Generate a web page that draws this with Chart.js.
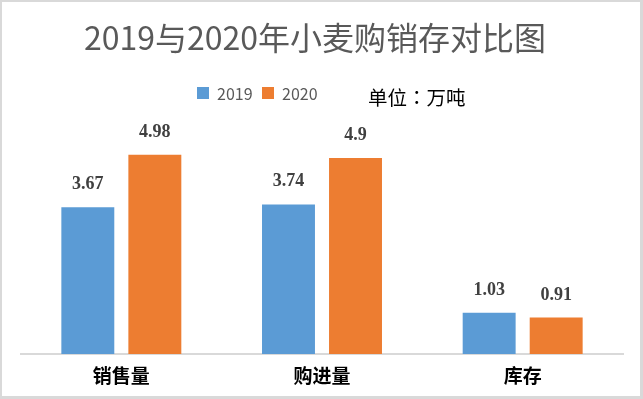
<!DOCTYPE html>
<html>
<head>
<meta charset="utf-8">
<script src="https://cdn.jsdelivr.net/npm/chart.js@4"></script>
<style>
  html, body { margin: 0; padding: 0; background: #fff; }
  #wrap { position: relative; width: 643px; height: 399px; }
  #frame {
    position: absolute; left: 0; top: 0; width: 643px; height: 399px;
    box-sizing: border-box; border: 2px solid #d9d9d9;
    border-right-width: 3px; border-bottom-width: 3px; pointer-events: none;
  }
</style>
</head>
<body>
<div id="wrap">
  <canvas id="chart" width="643" height="399"></canvas>
  <div id="frame"></div>
</div>
<script>
// ── Data ──────────────────────────────────────────────────────────────────────
const TITLE = '2019与2020年小麦购销存对比图';
const UNIT_NOTE = '单位：万吨';
const CATEGORIES = ['销售量', '购进量', '库存'];
const SERIES_NAMES = ['2019', '2020'];
const VALUES_2019 = [3.67, 3.74, 1.03];
const VALUES_2020 = [4.98, 4.9, 0.91];

const COLORS = ['#5b9bd5', '#ed7d31'];
const CJK = '"Noto Sans CJK SC", "Noto Sans", sans-serif';

// ── Title, legend, unit note and value labels drawn on the canvas ────────────
const decorPlugin = {
  id: 'decor',
  afterDraw(chart) {
    const ctx = chart.ctx;
    ctx.save();

    // title
    ctx.fillStyle = '#595959';
    ctx.font = '32px ' + CJK;
    ctx.textAlign = 'center';
    ctx.textBaseline = 'middle';
    ctx.fillText(TITLE, 315, 38);

    // legend
    ctx.font = '16px ' + CJK;
    ctx.textAlign = 'left';
    let x = 197;
    chart.data.datasets.forEach((ds, i) => {
      ctx.fillStyle = ds.backgroundColor;
      ctx.fillRect(x, 87, 12, 12);
      ctx.fillStyle = '#595959';
      ctx.fillText(ds.label, x + 20, 94);
      x += 65;
    });

    // unit note (TC font keeps the full-width colon centred)
    ctx.fillStyle = '#000';
    ctx.font = '19.5px "Noto Sans CJK TC", ' + CJK;
    ctx.fillText(UNIT_NOTE, 368, 98);

    // value labels
    ctx.fillStyle = '#404040';
    ctx.font = 'bold 18px "Liberation Serif", "Times New Roman", serif';
    ctx.textAlign = 'center';
    ctx.textBaseline = 'alphabetic';
    chart.data.datasets.forEach((ds, i) => {
      chart.getDatasetMeta(i).data.forEach((bar, j) => {
        ctx.fillText(String(ds.data[j]), bar.x, bar.y - 18);
      });
    });

    ctx.restore();
  }
};

new Chart(document.getElementById('chart'), {
  type: 'bar',
  data: {
    labels: CATEGORIES,
    datasets: [
      { label: SERIES_NAMES[0], data: VALUES_2019, backgroundColor: COLORS[0] },
      { label: SERIES_NAMES[1], data: VALUES_2020, backgroundColor: COLORS[1] },
    ],
  },
  options: {
    responsive: false,
    animation: false,
    devicePixelRatio: 1,
    categoryPercentage: 0.668,
    barPercentage: 0.79,
    layout: { padding: { left: 21, right: 20, top: 114, bottom: 0 } },
    plugins: {
      legend: { display: false },
      title: { display: false },
      tooltip: { enabled: false },
    },
    scales: {
      x: {
        grid: { display: false, drawTicks: false },
        border: { display: true, color: '#d9d9d9', width: 2 },
        ticks: {
          color: '#000',
          padding: 10,
          font: { family: CJK, size: 19, weight: 'bold' },
        },
        afterFit: scale => { scale.height = 45; },
      },
      y: {
        display: false,
        min: 0,
        max: 6,
      },
    },
  },
  plugins: [decorPlugin],
});
</script>
</body>
</html>
